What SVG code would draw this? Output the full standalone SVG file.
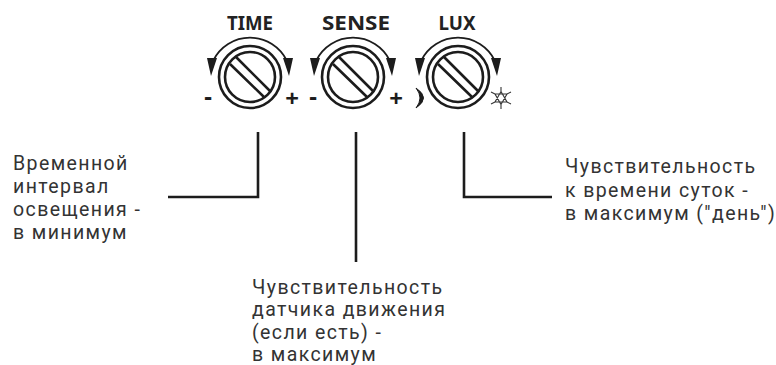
<svg xmlns="http://www.w3.org/2000/svg" width="776" height="365" viewBox="0 0 776 365">
<style>
.t{font-family:"Roboto","Noto Sans",sans-serif;font-size:19.5px;letter-spacing:1.4px;fill:#333}
.h{font-family:"Noto Sans","Liberation Sans",sans-serif;font-size:20px;font-weight:700;fill:#222;text-anchor:middle}
.s{font-family:"Noto Sans","Liberation Sans",sans-serif;font-size:24px;font-weight:700;fill:#1c1c1c;text-anchor:middle}
.r{fill:none;stroke:#1c1c1c;stroke-width:2.6}
.a{fill:none;stroke:#1c1c1c;stroke-width:1.8}
</style>
<defs>
<g id="dial">
<path class="a" d="M-37 -16A41 41 0 0 1 37 -16"/>
<path d="M-43 -19L-33 -19L-39 -1ZM33 -19L43 -19L39 -1Z" fill="#1c1c1c"/>
<circle class="r" r="31"/><circle class="r" r="25"/>
<path class="r" d="M-20 -13L14 20M-14 -20L20 14"/>
</g>
</defs>
<rect width="776" height="365" fill="#fff"/>
<g id="time"><use href="#dial" x="250" y="77"/><text class="h" x="250" y="30" textLength="46" lengthAdjust="spacingAndGlyphs">TIME</text><text class="s" x="208" y="105">-</text><text class="s" x="292" y="107">+</text></g>
<g id="sense"><use href="#dial" x="353" y="77"/><text class="h" x="356" y="30" textLength="68" lengthAdjust="spacingAndGlyphs">SENSE</text><text class="s" x="313" y="105">-</text><text class="s" x="396" y="107">+</text></g>
<g id="lux"><use href="#dial" x="458" y="77"/><text class="h" x="457" y="30" textLength="37" lengthAdjust="spacingAndGlyphs">LUX</text>
<path d="M416 88Q431 98 416 108Q424 98 416 88Z" fill="#1c1c1c" stroke="#1c1c1c" stroke-width="1"/>
<path d="M501 91.500L507 102L495 102ZM501 104.500L495 94L507 94ZM501 87V91.500M501 104.500V109M491 92L495 94M511 92L507 94M491 104L495 102M511 104L507 102" fill="none" stroke="#333" stroke-width="1.1"/></g>
<g id="connectors" fill="none" stroke="#1c1c1c" stroke-width="2.6">
<path d="M258 132V197H168"/><path d="M356 132V262"/><path d="M464 132V197H552"/>
</g>
<g id="label-time"><text class="t" x="13" y="170">Временной</text><text class="t" x="13" y="193">интервал</text><text class="t" x="13" y="216">освещения -</text><text class="t" x="13" y="239">в минимум</text></g>
<g id="label-sense"><text class="t" x="252" y="294">Чувствительность</text><text class="t" x="252" y="316">датчика движения</text><text class="t" x="252" y="339">(если есть) -</text><text class="t" x="252" y="361">в максимум</text></g>
<g id="label-lux"><text class="t" x="565" y="173">Чувствительность</text><text class="t" x="565" y="197">к времени суток -</text><text class="t" x="565" y="220">в максимум ("день")</text></g>
</svg>
